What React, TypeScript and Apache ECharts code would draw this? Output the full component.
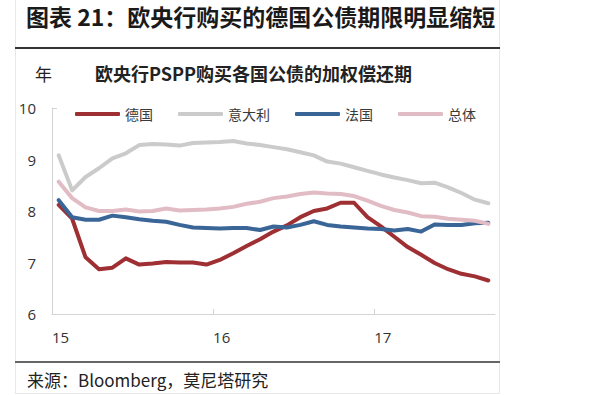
import React, { useEffect, useRef } from 'react';
import * as echarts from 'echarts';

const months = [
  '2015-01', '2015-02', '2015-03', '2015-04', '2015-05', '2015-06', '2015-07', '2015-08', '2015-09', '2015-10', '2015-11', '2015-12',
  '2016-01', '2016-02', '2016-03', '2016-04', '2016-05', '2016-06', '2016-07', '2016-08', '2016-09', '2016-10', '2016-11', '2016-12',
  '2017-01', '2017-02', '2017-03', '2017-04', '2017-05', '2017-06', '2017-07', '2017-08', '2017-09',
];
const germany = [8.12, 7.85, 7.1, 6.87, 6.9, 7.08, 6.96, 6.98, 7.01, 7.0, 7.0, 6.96, 7.05, 7.18, 7.32, 7.45, 7.6, 7.72, 7.88, 8.0, 8.05, 8.16, 8.16, 7.88, 7.7, 7.5, 7.3, 7.15, 6.99, 6.87, 6.78, 6.73, 6.65];
const italy = [9.08, 8.4, 8.66, 8.83, 9.02, 9.12, 9.28, 9.3, 9.29, 9.27, 9.32, 9.33, 9.34, 9.36, 9.31, 9.28, 9.24, 9.2, 9.14, 9.08, 8.96, 8.92, 8.85, 8.78, 8.71, 8.65, 8.6, 8.54, 8.55, 8.46, 8.35, 8.22, 8.15];
const france = [8.21, 7.88, 7.83, 7.83, 7.91, 7.88, 7.84, 7.81, 7.79, 7.73, 7.68, 7.67, 7.66, 7.67, 7.67, 7.63, 7.7, 7.68, 7.73, 7.8, 7.73, 7.7, 7.68, 7.66, 7.65, 7.62, 7.65, 7.6, 7.74, 7.73, 7.73, 7.76, 7.77];
const total = [8.57, 8.25, 8.07, 8.0, 8.0, 8.03, 7.99, 8.0, 8.05, 8.01, 8.02, 8.03, 8.05, 8.08, 8.14, 8.18, 8.25, 8.28, 8.33, 8.36, 8.34, 8.33, 8.29, 8.2, 8.1, 8.02, 7.97, 7.9, 7.89, 7.85, 7.83, 7.81, 7.75];
const seriesNames = ['德国', '意大利', '法国', '总体'];
const seriesColors = ['#9e2f33', '#cbcbcb', '#3a6597', '#e2bcc4'];
const xTickYears = ['15', '16', '17'];
const yMin = 6;
const yMax = 10;

const titleText = '图表 21：欧央行购买的德国公债期限明显缩短';
const subtitleText = '欧央行PSPP购买各国公债的加权偿还期';
const unitText = '年';
const sourceText = '来源：Bloomberg，莫尼塔研究';

// month index (0 = start of 2015) for a 'YYYY-MM' label, placed mid-month
const monthPos = (m: string) => {
  const [y, mo] = m.split('-').map(Number);
  return (y - 2015) * 12 + (mo - 1) + 0.5;
};

const CJK = '"Noto Sans CJK SC", "Noto Sans", sans-serif';

export default function App() {
  const ref = useRef<HTMLDivElement>(null);
  useEffect(() => {
    if (!ref.current) return;
    const chart = echarts.init(ref.current, undefined, { renderer: 'svg' });
    const allData = [germany, italy, france, total];
    const tickValues = xTickYears.map((_, i) => i * 12);
    chart.setOption({
      animation: false,
      backgroundColor: '#ffffff',
      grid: { left: 52, right: 119, top: 108, bottom: 81, containLabel: false },
      legend: {
        data: seriesNames,
        left: 70,
        top: 102,
        itemWidth: 45,
        itemHeight: 4,
        itemGap: 25,
        icon: 'roundRect',
        textStyle: { fontFamily: CJK, fontSize: 14, color: '#3a3a3a' },
      },
      xAxis: {
        type: 'value',
        min: 0,
        max: 33,
        interval: 12,
        splitLine: { show: false },
        axisLine: { lineStyle: { color: '#d4d4d4', width: 1 } },
        axisTick: { show: true, inside: true, length: 5, customValues: tickValues, lineStyle: { color: '#d4d4d4' } },
        axisLabel: {
          customValues: tickValues,
          formatter: (v: number) => xTickYears[Math.round(v / 12)] ?? '',
          align: 'left',
          margin: 15,
          fontSize: 15,
          color: '#333',
          fontFamily: '"Open Sans", "Noto Sans", sans-serif',
        },
      },
      yAxis: {
        type: 'value',
        min: yMin,
        max: yMax,
        interval: 1,
        splitLine: { show: false },
        axisLine: { show: true, lineStyle: { color: '#d4d4d4', width: 1 } },
        axisTick: { show: true, inside: true, length: 5, customValues: [yMax], lineStyle: { color: '#d4d4d4' } },
        axisLabel: {
          margin: 16,
          fontSize: 15,
          color: '#333',
          fontFamily: '"Open Sans", "Noto Sans", sans-serif',
        },
      },
      series: seriesNames.map((name, i) => ({
        name,
        type: 'line',
        showSymbol: false,
        symbol: 'none',
        smooth: false,
        data: months.map((m, j) => [monthPos(m), allData[i][j]]),
        lineStyle: { color: seriesColors[i], width: 4, cap: 'round', join: 'round' },
        itemStyle: { color: seriesColors[i] },
      })),
      graphic: [
        // card borders
        { type: 'line', shape: { x1: 15.5, y1: 0, x2: 15.5, y2: 394 }, style: { stroke: '#e8e8e8', lineWidth: 1 } },
        { type: 'line', shape: { x1: 499.5, y1: 0, x2: 499.5, y2: 394 }, style: { stroke: '#e8e8e8', lineWidth: 1 } },
        { type: 'line', shape: { x1: 15, y1: 393.5, x2: 500, y2: 393.5 }, style: { stroke: '#e8e8e8', lineWidth: 1 } },
        // title
        {
          type: 'text',
          left: 26,
          top: 4,
          style: { text: titleText, fontFamily: CJK, fontSize: 23, fontWeight: 'bold', fill: '#1a1a1a' },
        },
        { type: 'line', shape: { x1: 15, y1: 48, x2: 500, y2: 48 }, style: { stroke: '#333', lineWidth: 2 } },
        // unit and subtitle
        {
          type: 'text',
          left: 35,
          top: 65,
          style: { text: unitText, fontFamily: CJK, fontSize: 17, fill: '#222' },
        },
        {
          type: 'text',
          left: 95,
          top: 64,
          style: { text: subtitleText, fontFamily: CJK, fontSize: 18, fontWeight: 'bold', fill: '#222' },
        },
        // footer
        { type: 'line', shape: { x1: 15, y1: 362, x2: 500, y2: 362 }, style: { stroke: '#666', lineWidth: 2 } },
        {
          type: 'text',
          left: 27,
          top: 371,
          style: { text: sourceText, fontFamily: CJK, fontSize: 17, fill: '#222' },
        },
      ],
    });
    return () => chart.dispose();
  }, []);
  return <div ref={ref} style={{ position: 'fixed', left: 0, top: 0, width: 614, height: 395 }} />;
}
